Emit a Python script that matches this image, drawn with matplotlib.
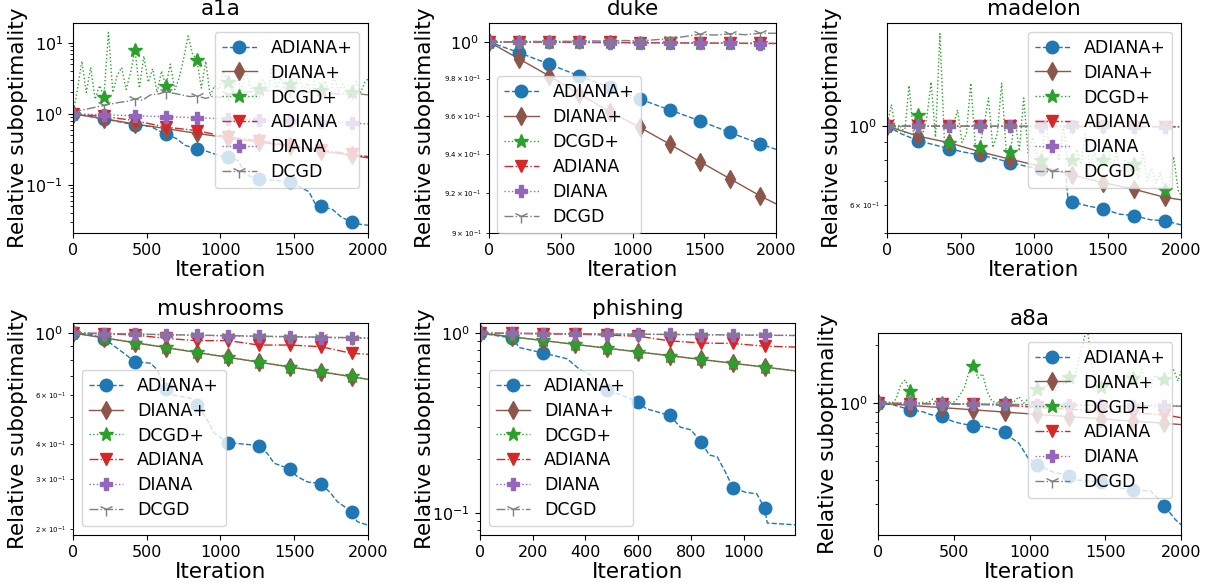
import matplotlib
matplotlib.use('Agg')
import matplotlib.pyplot as plt

labels = ['ADIANA+', 'DIANA+', 'DCGD+', 'ADIANA', 'DIANA', 'DCGD']
colors = ['tab:blue', 'tab:brown', 'tab:green', 'tab:red', 'tab:purple', 'tab:gray']
markers = ['o', 'd', '*', 'v', 'P', '1']
styles = ['--', '-', ':', '-.', ':', '-.']
msizes = [9, 9, 10, 9, 9, 10]

# iterations where the smooth curves were logged
it_2000 = [0, 210, 420, 630, 840, 1050, 1260, 1470, 1680, 1890, 2000]
it_noisy = list(range(0, 2000, 30)) + [2000]

# ---- a1a
a1a_adiana_plus_it = [0, 100, 210, 330, 420, 530, 580, 630, 700, 760, 840, 900, 1000, 1050,
                      1120, 1170, 1260, 1470, 1530, 1600, 1640, 1680, 1760, 1820, 1890, 1940, 2000]
a1a_adiana_plus = [1.0, 0.93, 0.85, 0.76, 0.70, 0.66, 0.58, 0.52, 0.45, 0.36, 0.32, 0.30, 0.255, 0.245,
                   0.22, 0.14, 0.12, 0.111, 0.095, 0.080, 0.055, 0.050, 0.045, 0.035, 0.030, 0.028, 0.027]
a1a_diana_plus = [1.0, 0.85, 0.72, 0.62, 0.53, 0.46, 0.40, 0.35, 0.30, 0.26, 0.24]
a1a_dcgd_plus = [1.0, 2.2, 5.5, 2.0, 4.5, 1.6, 2.5, 1.75, 14, 2.0,
                 3.5, 4.5, 2.2, 3.8, 8.0, 2.3, 6.5, 2.8, 4.3, 2.0,
                 4.0, 2.45, 5.0, 2.2, 3.2, 6.0, 12.5, 7.0, 5.8, 2.3,
                 5.5, 1.8, 2.5, 2.2, 4.0, 2.8, 1.9, 3.5, 2.0, 4.2,
                 2.4, 1.8, 2.25, 3.0, 2.0, 4.5, 2.3, 3.2, 1.9, 2.6,
                 2.1, 3.8, 2.0, 2.7, 1.8, 4.0, 2.2, 2.9, 1.8, 3.3,
                 2.1, 2.6, 1.8, 2.0, 3.0, 2.0, 2.8, 3.1]
a1a_adiana = [1.0, 0.92, 0.80, 0.65, 0.58, 0.47, 0.42, 0.36, 0.31, 0.27, 0.25]
a1a_diana = [1.0, 0.97, 0.94, 0.91, 0.88, 0.85, 0.82, 0.79, 0.77, 0.74, 0.72]
a1a_dcgd_it = [0, 50, 105, 160, 210, 260, 315, 370, 420, 470, 525, 580, 630, 680, 735,
               790, 840, 900, 945, 1000, 1050, 1150, 1260, 1370, 1470, 1580, 1680, 1790, 1890, 2000]
a1a_dcgd = [1.0, 1.12, 1.18, 1.25, 1.31, 1.38, 1.45, 1.50, 1.62, 1.55, 1.85, 1.90, 2.05, 1.95, 1.85,
            1.75, 1.78, 1.65, 1.75, 1.70, 1.90, 2.0, 2.1, 2.15, 2.2, 2.0, 2.0, 1.9, 1.95, 1.85]

# ---- duke
duke_adiana_plus = [1.0, 0.9941, 0.9878, 0.9814, 0.9753, 0.9690, 0.9632, 0.9574, 0.9513, 0.9453, 0.9425]
duke_diana_plus = [1.0, 0.9907, 0.9814, 0.9717, 0.9623, 0.9540, 0.9452, 0.9361, 0.9273, 0.9186, 0.9146]
duke_dcgd_plus = [1.0, 1.0, 0.9999, 0.9998, 0.9997, 0.9996, 0.9995, 0.9994, 0.9993, 0.9992, 0.9992]
duke_adiana = [1.0, 1.0, 0.9999, 0.9998, 0.9997, 0.9996, 0.9995, 0.9994, 0.9993, 0.9992, 0.9992]
duke_diana = [1.0, 0.9999, 0.9998, 0.9997, 0.9996, 0.9995, 0.9994, 0.9993, 0.9992, 0.9991, 0.9991]
duke_dcgd_it = [0, 105, 210, 315, 420, 525, 630, 735, 840, 945, 1050, 1155, 1260, 1365, 1470,
                1575, 1680, 1785, 1890, 2000]
duke_dcgd = [1.0, 1.0002, 0.9999, 1.0003, 1.0001, 1.0004, 1.0002, 1.0006, 1.0003, 1.0008, 1.0005,
             1.0012, 1.0018, 1.0030, 1.0042, 1.0038, 1.0045, 1.0040, 1.0048, 1.0048]

# ---- madelon
madelon_adiana_plus_it = [0, 100, 210, 300, 420, 520, 630, 740, 840, 950, 1050, 1140, 1215, 1230,
                          1260, 1370, 1470, 1580, 1680, 1790, 1890, 2000]
madelon_adiana_plus = [1.0, 0.95, 0.91, 0.89, 0.864, 0.845, 0.829, 0.81, 0.789, 0.77, 0.756, 0.748,
                       0.742, 0.63, 0.612, 0.595, 0.585, 0.565, 0.56, 0.545, 0.541, 0.527]
madelon_diana_plus = [1.0, 0.937, 0.898, 0.847, 0.806, 0.77, 0.728, 0.693, 0.664, 0.63, 0.62]
madelon_dcgd_plus = [1.0, 1.15, 0.97, 1.0, 0.96, 1.3, 0.95, 1.074, 0.94, 1.05,
                     1.33, 0.93, 1.82, 0.92, 0.898, 1.0, 1.11, 0.9, 0.95, 1.32,
                     0.89, 0.875, 1.0, 1.2, 0.87, 0.95, 1.32, 0.86, 0.847, 1.05,
                     0.85, 1.2, 0.84, 0.93, 0.83, 0.80, 1.05, 0.82, 0.9, 0.8,
                     1.0, 0.79, 0.80, 0.86, 0.78, 0.95, 0.77, 0.85, 0.76, 0.80,
                     0.92, 0.75, 0.84, 0.74, 0.80, 0.72, 0.78, 0.71, 0.85, 0.70,
                     0.76, 0.69, 0.74, 0.661, 0.68, 0.82, 0.66, 0.64]
madelon_adiana = [1.0, 1.0, 0.999, 0.999, 0.998, 0.998, 0.997, 0.997, 0.996, 0.996, 0.995]
madelon_diana = [1.0, 1.0, 0.999, 0.999, 0.999, 0.998, 0.998, 0.998, 0.997, 0.997, 0.997]
madelon_dcgd = [1.0, 0.999, 0.999, 0.998, 0.998, 0.997, 0.997, 0.996, 0.996, 0.995, 0.995]

# ---- mushrooms
mushrooms_adiana_plus_it = [0, 120, 210, 255, 346, 420, 527, 572, 617, 630, 685, 798, 840, 911, 956,
                            1050, 1227, 1260, 1317, 1363, 1470, 1521, 1589, 1680, 1747, 1792, 1890, 1927, 2000]
mushrooms_adiana_plus = [1.0, 0.99, 0.952, 0.919, 0.846, 0.79, 0.78, 0.738, 0.643, 0.629, 0.60, 0.585,
                         0.553, 0.489, 0.44, 0.406, 0.398, 0.396, 0.372, 0.343, 0.327, 0.307, 0.294,
                         0.290, 0.268, 0.25, 0.23, 0.212, 0.206]
mushrooms_diana_plus = [1.0, 0.961, 0.923, 0.887, 0.852, 0.819, 0.787, 0.756, 0.727, 0.698, 0.683]
mushrooms_dcgd_plus = [1.0, 0.962, 0.925, 0.889, 0.854, 0.821, 0.789, 0.758, 0.729, 0.700, 0.685]
mushrooms_adiana = [1.0, 0.995, 0.984, 0.957, 0.939, 0.94, 0.906, 0.906, 0.894, 0.846, 0.84]
mushrooms_diana = [1.0, 0.995, 0.991, 0.986, 0.981, 0.977, 0.972, 0.968, 0.963, 0.959, 0.957]
mushrooms_dcgd = [1.0, 0.996, 0.992, 0.987, 0.983, 0.979, 0.975, 0.971, 0.967, 0.963, 0.961]

# ---- phishing (shorter run, logged every 120)
phishing_it = [0, 120, 240, 360, 480, 600, 720, 840, 960, 1080, 1195]
phishing_adiana_plus_it = [0, 120, 150, 240, 330, 380, 420, 450, 480, 540, 600, 630, 700, 720, 760,
                           800, 840, 870, 900, 930, 960, 1010, 1050, 1080, 1090, 1195]
phishing_adiana_plus = [1.0, 0.938, 0.83, 0.774, 0.72, 0.625, 0.586, 0.5, 0.484, 0.45, 0.414, 0.38,
                        0.355, 0.349, 0.30, 0.29, 0.247, 0.21, 0.205, 0.17, 0.138, 0.13, 0.128,
                        0.106, 0.088, 0.086]
phishing_diana_plus = [1.0, 0.953, 0.908, 0.865, 0.824, 0.785, 0.748, 0.713, 0.679, 0.647, 0.617]
phishing_dcgd_plus = [1.0, 0.954, 0.909, 0.866, 0.825, 0.786, 0.749, 0.713, 0.679, 0.646, 0.614]
phishing_adiana = [1.0, 0.995, 0.99, 0.985, 0.975, 0.96, 0.905, 0.88, 0.875, 0.845, 0.836]
phishing_diana = [1.0, 0.997, 0.994, 0.991, 0.988, 0.985, 0.982, 0.979, 0.976, 0.973, 0.970]
phishing_dcgd = [1.0, 0.997, 0.994, 0.991, 0.988, 0.985, 0.982, 0.979, 0.976, 0.972, 0.969]

# ---- a8a
a8a_adiana_plus_it = [0, 100, 210, 300, 350, 420, 500, 560, 630, 700, 760, 840, 880, 930, 990, 1050,
                      1150, 1260, 1300, 1470, 1560, 1620, 1680, 1800, 1850, 1890, 1960, 2000]
a8a_adiana_plus = [1.0, 0.98, 0.925, 0.90, 0.87, 0.855, 0.80, 0.78, 0.765, 0.755, 0.74, 0.706, 0.66,
                   0.62, 0.52, 0.48, 0.44, 0.421, 0.40, 0.391, 0.37, 0.36, 0.356, 0.35, 0.32, 0.294,
                   0.25, 0.234]
a8a_diana_plus = [1.0, 0.973, 0.948, 0.923, 0.898, 0.874, 0.851, 0.829, 0.807, 0.786, 0.774]
a8a_dcgd_plus = [1.0, 1.0, 1.02, 1.0, 1.05, 1.25, 1.32, 1.15, 1.02, 1.0,
                 1.01, 1.0, 1.05, 1.0, 1.0, 1.04, 1.0, 1.02, 1.1, 1.2,
                 1.45, 1.56, 1.35, 1.42, 1.15, 1.03, 1.0, 1.02, 1.0, 1.0,
                 1.02, 1.08, 1.0, 1.05, 1.1, 1.18, 1.12, 1.25, 1.2, 1.15,
                 1.3, 1.25, 1.37, 1.3, 1.6, 2.0, 2.5, 1.6, 1.3, 1.21,
                 1.35, 1.25, 1.4, 1.3, 1.25, 1.45, 1.35, 1.3, 1.5, 1.25,
                 1.2, 1.4, 1.3, 1.33, 1.45, 1.5, 1.3, 1.46]
a8a_adiana = [1.0, 0.995, 0.99, 0.985, 0.975, 0.95, 0.93, 0.91, 0.89, 0.87, 0.84]
a8a_diana = [1.0, 0.996, 0.992, 0.988, 0.984, 0.980, 0.976, 0.972, 0.968, 0.964, 0.962]
a8a_dcgd = [1.0, 0.996, 0.993, 0.989, 0.985, 0.981, 0.977, 0.973, 0.970, 0.967, 0.965]

W, H = 1210, 583


def px_rect(left, top, right, bottom):
    return [left / W, 1 - bottom / H, (right - left) / W, (bottom - top) / H]


panels = [
    dict(title='a1a', rect=px_rect(73, 23, 368, 233), xmax=2000, ylim=(0.021, 19), step=210,
         ylab_x=-0.1525,
         series=[(a1a_adiana_plus_it, a1a_adiana_plus), (it_2000, a1a_diana_plus),
                 (it_noisy, a1a_dcgd_plus), (it_2000, a1a_adiana), (it_2000, a1a_diana),
                 (a1a_dcgd_it, a1a_dcgd)],
         legend=dict(loc='upper right')),
    dict(title='duke', rect=px_rect(489, 23, 776, 233), xmax=2000, ylim=(0.9, 1.0105), step=210,
         ylab_x=-0.188,
         series=[(it_2000, duke_adiana_plus), (it_2000, duke_diana_plus), (it_2000, duke_dcgd_plus),
                 (it_2000, duke_adiana), (it_2000, duke_diana), (duke_dcgd_it, duke_dcgd)],
         legend=dict(loc='lower left', bbox_to_anchor=(0.028, 0.0), borderaxespad=0)),
    dict(title='madelon', rect=px_rect(887, 23, 1181, 233), xmax=2000, ylim=(0.50, 1.95), step=210,
         ylab_x=-0.153,
         series=[(madelon_adiana_plus_it, madelon_adiana_plus), (it_2000, madelon_diana_plus),
                 (it_noisy, madelon_dcgd_plus), (it_2000, madelon_adiana), (it_2000, madelon_diana),
                 (it_2000, madelon_dcgd)],
         legend=dict(loc='upper right')),
    dict(title='mushrooms', rect=px_rect(73, 323, 368, 535), xmax=2000, ylim=(0.19, 1.086), step=210,
         ylab_x=-0.1525,
         series=[(mushrooms_adiana_plus_it, mushrooms_adiana_plus), (it_2000, mushrooms_diana_plus),
                 (it_2000, mushrooms_dcgd_plus), (it_2000, mushrooms_adiana), (it_2000, mushrooms_diana),
                 (it_2000, mushrooms_dcgd)],
         legend=dict(loc='lower left')),
    dict(title='phishing', rect=px_rect(480, 323, 795, 535), xmax=1195, ylim=(0.0755, 1.137), step=120,
         ylab_x=-0.143,
         series=[(phishing_adiana_plus_it, phishing_adiana_plus), (phishing_it, phishing_diana_plus),
                 (phishing_it, phishing_dcgd_plus), (phishing_it, phishing_adiana),
                 (phishing_it, phishing_diana), (phishing_it, phishing_dcgd)],
         legend=dict(loc='lower left')),
    dict(title='a8a', rect=px_rect(878, 333, 1181, 535), xmax=2000, ylim=(0.207, 2.31), step=210,
         ylab_x=-0.132,
         series=[(a8a_adiana_plus_it, a8a_adiana_plus), (it_2000, a8a_diana_plus),
                 (it_noisy, a8a_dcgd_plus), (it_2000, a8a_adiana), (it_2000, a8a_diana),
                 (it_2000, a8a_dcgd)],
         legend=dict(loc='upper right')),
]

fig = plt.figure(figsize=(W / 100, H / 100), dpi=100)

for p in panels:
    ax = fig.add_axes(p['rect'])
    for k, (xs, ys) in enumerate(p['series']):
        marks = [i for i, x in enumerate(xs) if x % p['step'] == 0]
        ax.plot(xs, ys, linestyle=styles[k], color=colors[k], marker=markers[k],
                markersize=msizes[k], markevery=marks, linewidth=1, label=labels[k])
    ax.set_yscale('log')
    ax.set_xlim(0, p['xmax'])
    ax.set_ylim(*p['ylim'])
    ax.set_title(p['title'], fontsize=15.5)
    ax.set_xlabel('Iteration', fontsize=15.5, labelpad=2)
    ax.set_ylabel('Relative suboptimality', fontsize=15.5)
    ax.yaxis.set_label_coords(p['ylab_x'], 0.5)
    ax.tick_params(which='major', labelsize=11.5)
    ax.tick_params(which='minor', labelsize=5)
    ax.legend(fontsize=12.5, labelspacing=0.4, **p['legend'])

fig.savefig('out.png', dpi=100)
